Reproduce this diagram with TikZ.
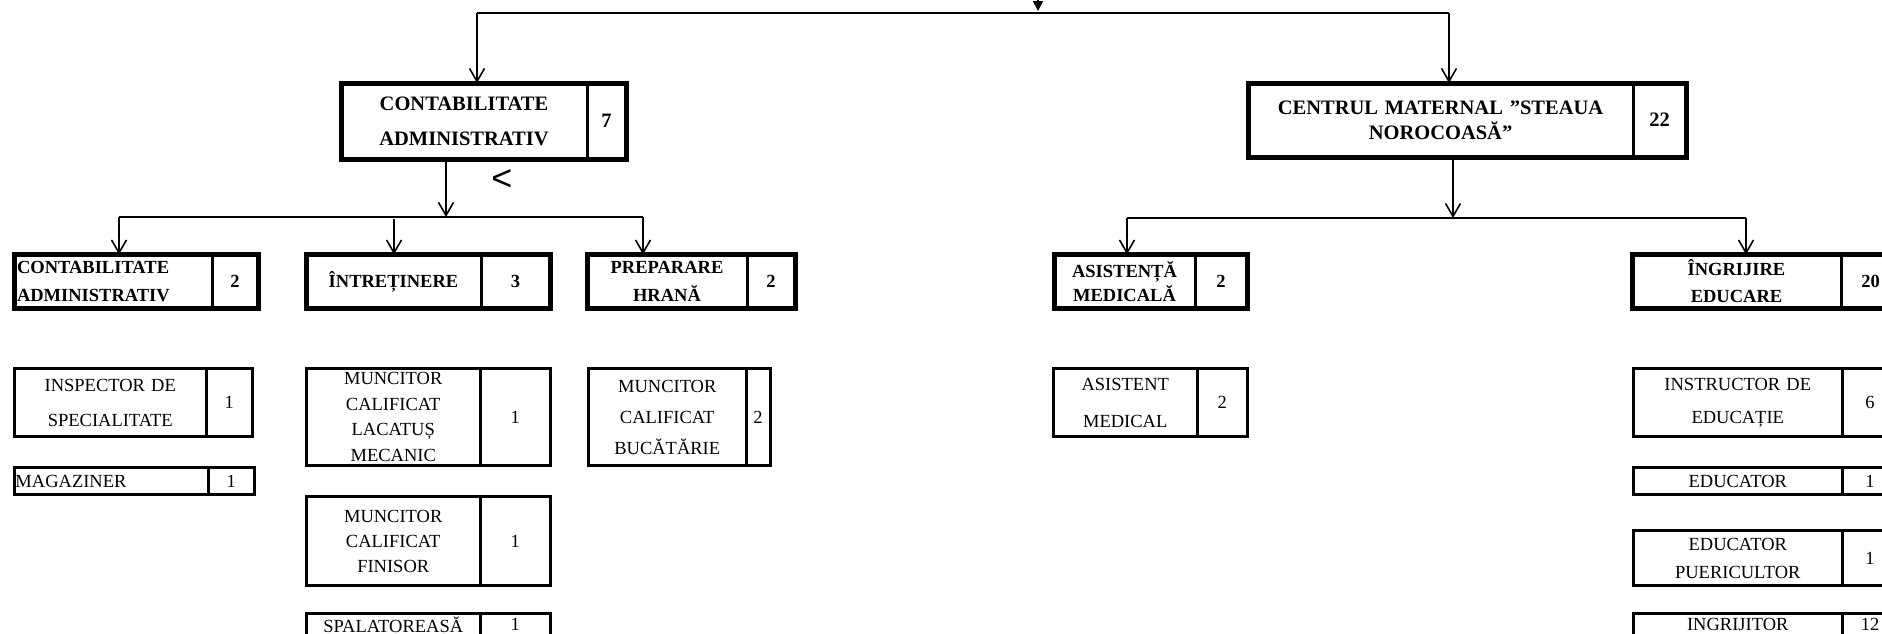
\documentclass[tikz,border=0pt]{standalone}
\usepackage{fontspec}
\setmainfont{Liberation Serif}
\newfontfamily\glyphfont{Liberation Sans}
\usetikzlibrary{arrows.meta}

\tikzset{
  box/.style={line width=5pt},
  smallbox/.style={line width=3pt},
  split/.style={line width=3pt},
  conn/.style={line width=1.6pt},
  cell/.style 2 args={anchor=north west, inner sep=0pt, outer sep=0pt,
    minimum width=#1, minimum height=#2, text width=#1, align=center},
  head/.style={font=\bfseries\fontsize{20.5}{#1}\selectfont},
  sub/.style={font=\bfseries\fontsize{18.5}{#1}\selectfont},
  post/.style={font=\fontsize{18.5}{#1}\selectfont},
}

\begin{document}
\begin{tikzpicture}[x=1pt,y=-1pt,>={Straight Barb[length=13pt,width=15pt]}]
\useasboundingbox (0,0) rectangle (1882,633);
\clip (0,0) rectangle (1882,633);

% first level
\node[cell={246pt}{76pt}, head=35] (adm) at (341,83) {CONTABILITATE\\ADMINISTRATIV};
\node[cell={39pt}{76pt}, head=35] (adm-nr) at (adm.north east) {7};
\draw[box] (adm.north west) rectangle (adm-nr.south east);
\draw[split] (adm-nr.north west) -- (adm-nr.south west);

\node[cell={385pt}{74pt}, head=25] (cmat) at (1248,83) {CENTRUL MATERNAL ”STEAUA\\NOROCOASĂ”};
\node[cell={53pt}{74pt}, head=25] (cmat-nr) at (cmat.north east) {22};
\draw[box] (cmat.north west) rectangle (cmat-nr.south east);
\draw[split] (cmat-nr.north west) -- (cmat-nr.south west);

% second level, left
\node[cell={192pt}{54pt}, sub=28, align=left, inner xsep=3pt] (cont) at (14,254.5) {CONTABILITATE\\ADMINISTRATIV};
\node[cell={46pt}{54pt}, sub=28] (cont-nr) at (cont.north east) {2};
\draw[box] (cont.north west) rectangle (cont-nr.south east);
\draw[split] (cont-nr.north west) -- (cont-nr.south west);

\node[cell={175pt}{54pt}, sub=28] (intr) at (306,254.5) {ÎNTREȚINERE};
\node[cell={69pt}{54pt}, sub=28] (intr-nr) at (intr.north east) {3};
\draw[box] (intr.north west) rectangle (intr-nr.south east);
\draw[split] (intr-nr.north west) -- (intr-nr.south west);

\node[cell={160pt}{54pt}, sub=28] (prep) at (587,254.5) {PREPARARE\\HRANĂ};
\node[cell={48pt}{54pt}, sub=28] (prep-nr) at (prep.north east) {2};
\draw[box] (prep.north west) rectangle (prep-nr.south east);
\draw[split] (prep-nr.north west) -- (prep-nr.south west);

% second level, right
\node[cell={141pt}{54pt}, sub=24] (med) at (1054,254.5) {ASISTENȚĂ\\MEDICALĂ};
\node[cell={52pt}{54pt}, sub=24] (med-nr) at (med.north east) {2};
\draw[box] (med.north west) rectangle (med-nr.south east);
\draw[split] (med-nr.north west) -- (med-nr.south west);

\node[cell={209pt}{54pt}, sub=27] (ingr) at (1632,254.5) {ÎNGRIJIRE\\EDUCARE};
\node[cell={59pt}{54pt}, sub=27] (ingr-nr) at (ingr.north east) {20};
\draw[box] (ingr.north west) rectangle (ingr-nr.south east);
\draw[split] (ingr-nr.north west) -- (ingr-nr.south west);

% posts
\node[cell={191.5pt}{68pt}, post=35] (insp) at (14.5,368.5) {INSPECTOR DE\\SPECIALITATE};
\node[cell={46.5pt}{68pt}, post=35] (insp-nr) at (insp.north east) {1};
\draw[smallbox] (insp.north west) rectangle (insp-nr.south east);
\draw[split] (insp-nr.north west) -- (insp-nr.south west);

\node[cell={191.5pt}{27pt}, post=20, align=left, inner xsep=1pt] (mag) at (14.5,467.5) {MAGAZINER};
\node[cell={46.5pt}{27pt}, post=20] (mag-nr) at (mag.north east) {1};
\draw[smallbox] (mag.north west) rectangle (mag-nr.south east);
\draw[split] (mag-nr.north west) -- (mag-nr.south west);

\node[cell={173.5pt}{97pt}, post=25.5] (lac) at (306.5,368.5) {MUNCITOR\\CALIFICAT\\LACATUȘ\\MECANIC};
\node[cell={70.5pt}{97pt}, post=25] (lac-nr) at (lac.north east) {1};
\draw[smallbox] (lac.north west) rectangle (lac-nr.south east);
\draw[split] (lac-nr.north west) -- (lac-nr.south west);

\node[cell={173.5pt}{89pt}, post=25] (fin) at (306.5,496.5) {MUNCITOR\\CALIFICAT\\FINISOR};
\node[cell={70.5pt}{89pt}, post=25] (fin-nr) at (fin.north east) {1};
\draw[smallbox] (fin.north west) rectangle (fin-nr.south east);
\draw[split] (fin-nr.north west) -- (fin-nr.south west);

\node[cell={173.5pt}{22pt}, post=20] (spal) at (306.5,613.5) {SPALATOREASĂ};
\node[cell={70.5pt}{22pt}, post=20] (spal-nr) at (spal.north east) {1};
\draw[smallbox] (spal.north west) rectangle (spal-nr.south east);
\draw[split] (spal-nr.north west) -- (spal-nr.south west);

\node[cell={157.5pt}{97pt}, post=31] (buc) at (588.5,368.5) {MUNCITOR\\CALIFICAT\\BUCĂTĂRIE};
\node[cell={24pt}{97pt}, post=31] (buc-nr) at (buc.north east) {2};
\draw[smallbox] (buc.north west) rectangle (buc-nr.south east);
\draw[split] (buc-nr.north west) -- (buc-nr.south west);

\node[cell={143.5pt}{68pt}, post=37] (asi) at (1053.5,368.5) {ASISTENT\\MEDICAL};
\node[cell={50.5pt}{68pt}, post=37] (asi-nr) at (asi.north east) {2};
\draw[smallbox] (asi.north west) rectangle (asi-nr.south east);
\draw[split] (asi-nr.north west) -- (asi-nr.south west);

\node[cell={208.5pt}{68pt}, post=33] (instr) at (1633.5,368.5) {INSTRUCTOR DE\\EDUCAȚIE};
\node[cell={56pt}{68pt}, post=33] (instr-nr) at (instr.north east) {6};
\draw[smallbox] (instr.north west) rectangle (instr-nr.south east);
\draw[split] (instr-nr.north west) -- (instr-nr.south west);

\node[cell={208.5pt}{27pt}, post=20] (edu) at (1633.5,467.5) {EDUCATOR};
\node[cell={56pt}{27pt}, post=20] (edu-nr) at (edu.north east) {1};
\draw[smallbox] (edu.north west) rectangle (edu-nr.south east);
\draw[split] (edu-nr.north west) -- (edu-nr.south west);

\node[cell={208.5pt}{55pt}, post=28] (puer) at (1633.5,530.5) {EDUCATOR\\PUERICULTOR};
\node[cell={56pt}{55pt}, post=28] (puer-nr) at (puer.north east) {1};
\draw[smallbox] (puer.north west) rectangle (puer-nr.south east);
\draw[split] (puer-nr.north west) -- (puer-nr.south west);

\node[cell={208.5pt}{22pt}, post=20] (ingrj) at (1633.5,613.5) {INGRIJITOR};
\node[cell={56pt}{22pt}, post=20] (ingrj-nr) at (ingrj.north east) {12};
\draw[smallbox] (ingrj.north west) rectangle (ingrj-nr.south east);
\draw[split] (ingrj-nr.north west) -- (ingrj-nr.south west);

\node[font=\glyphfont\fontsize{36}{36}\selectfont, inner sep=0pt] (mark) at (502,180) {<};

% connectors
\coordinate (src) at (1038,-30);
\coordinate (bus) at (1038,13);
\coordinate (busl) at (477,13);
\coordinate (busr) at (1449,13);
\draw[conn,-{Triangle[length=10pt,width=10pt]},shorten >=2pt] (src) -- (bus);
\draw[conn] (busl) -- (busr);
\draw[conn,->] (busl) -- (busl |- adm.north);
\draw[conn,->] (busr) -- (busr |- cmat.north);

\coordinate (ja) at (446,217);
\coordinate (ja1) at (119,217);
\coordinate (ja2) at (394,219);
\coordinate (ja3) at (643,217);
\draw[conn,->] (ja |- adm.south) -- (ja);
\draw[conn] (ja1) -- (ja3);
\draw[conn,->] (ja1) -- (ja1 |- cont.north);
\draw[conn,->] (ja2) -- (ja2 |- intr.north);
\draw[conn,->] (ja3) -- (ja3 |- prep.north);

\coordinate (jb) at (1453,218);
\coordinate (jb1) at (1127,218);
\coordinate (jb2) at (1746,218);
\draw[conn,->] (jb |- cmat.south) -- (jb);
\draw[conn] (jb1) -- (jb2);
\draw[conn,->] (jb1) -- (jb1 |- med.north);
\draw[conn,->] (jb2) -- (jb2 |- ingr.north);
\end{tikzpicture}
\end{document}
